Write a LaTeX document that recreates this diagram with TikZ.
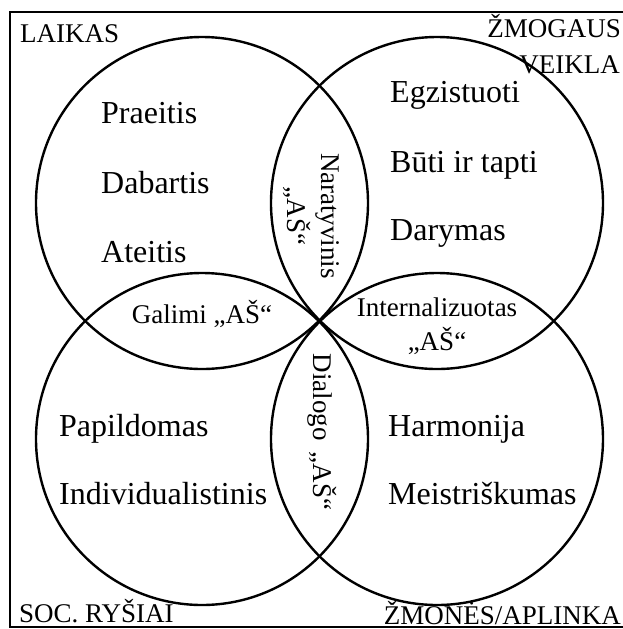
\documentclass[tikz,border=0pt]{standalone}
\usepackage{fontspec}
\setmainfont{Liberation Serif}
\usetikzlibrary{positioning}

\begin{document}
\begin{tikzpicture}[x=0.5pt,y=-0.5pt,line width=1.2pt,
    ring/.style={circle,draw,minimum size=166pt,inner sep=0pt},
    big/.style={anchor=base west,font=\fontsize{16}{19}\selectfont,inner sep=0pt},
    small/.style={font=\fontsize{13.5}{17}\selectfont,align=center,inner sep=0pt},
    corner/.style={font=\fontsize{13.5}{17}\selectfont,inner sep=0pt}]

    \useasboundingbox (0,0) rectangle (623,629);
    \draw[line width=1pt] (10.5,12) rectangle (640,627);

    % four circles
    \node[ring] (laikas) at (202,203) {};
    \node[ring] (veikla) at (437,203) {};
    \node[ring] (rysiai) at (202,439) {};
    \node[ring] (aplinka) at (437,439) {};

    % corner labels
    \node[corner,anchor=base west] (tLaikas) at (19,42) {LAIKAS};
    \node[corner,anchor=base east] (tZmogaus) at (622,37) {ŽMOGAUS};
    \node[corner,anchor=base east] (tVeikla) at (621,73) {VEIKLA};
    \node[corner,anchor=base west] (tSoc) at (18,622) {SOC. RYŠIAI};
    \node[corner,anchor=base east] (tZmones) at (622,624) {ŽMONĖS/APLINKA};

    % inside the circles
    \node[big] (praeitis) at (100,123) {Praeitis};
    \node[big] (dabartis) at (100,193) {Dabartis};
    \node[big] (ateitis) at (100,262) {Ateitis};
    \node[big] (egz) at (389,102) {Egzistuoti};
    \node[big] (buti) at (389,172) {Būti ir tapti};
    \node[big] (darymas) at (389,240) {Darymas};
    \node[big] (papild) at (58,436) {Papildomas};
    \node[big] (indiv) at (58,504) {Individualistinis};
    \node[big] (harm) at (387,436) {Harmonija};
    \node[big] (meistr) at (387,504) {Meistriškumas};

    % overlaps
    \node[small,rotate=-90] (narat) at (311,216) {Naratyvinis\\„AŠ“};
    \node[small,rotate=-90] (dialogo) at (322,432) {Dialogo \,„AŠ“};
    \node[small] (galimi) at (202,314) {Galimi „AŠ“};
    \node[small] (intern) at (437,326) {Internalizuotas\\„AŠ“};
\end{tikzpicture}
\end{document}
